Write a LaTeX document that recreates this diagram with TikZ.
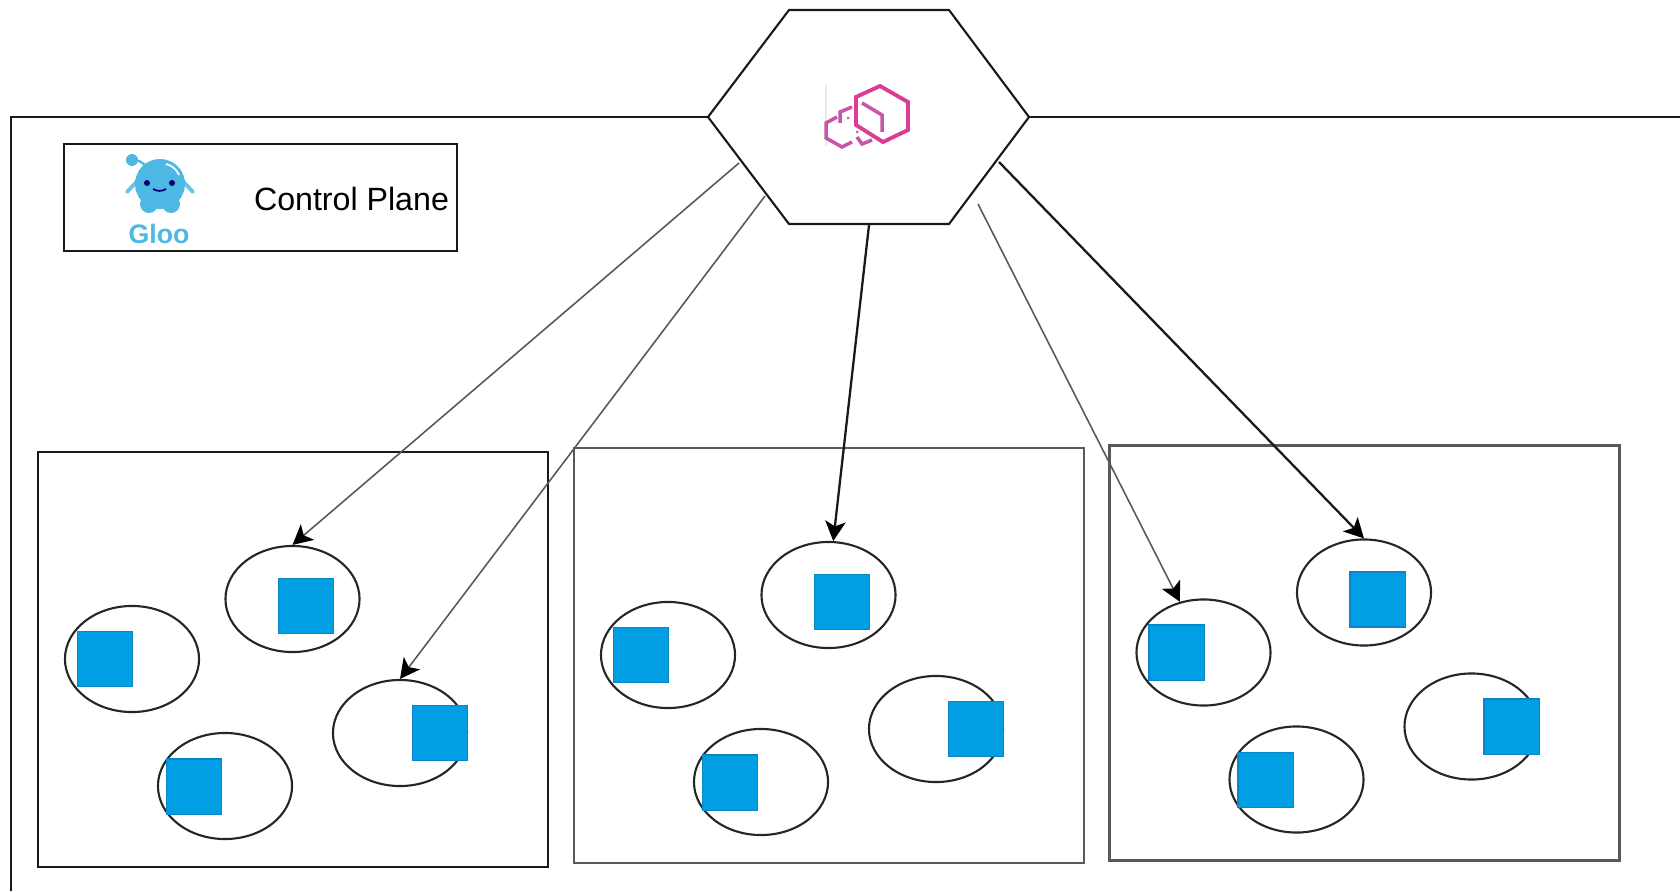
\documentclass[tikz,border=0pt]{standalone}
\usepackage{xcolor}
\usepackage{fontspec}
\setmainfont{Liberation Sans}
\usetikzlibrary{arrows.meta,shapes.geometric}
\definecolor{podblue}{HTML}{009FE3}
\definecolor{podedge}{HTML}{0A86C8}
\definecolor{gloo}{HTML}{4DB8E4}
\definecolor{envoy}{HTML}{DE3B96}
\definecolor{envoyb}{HTML}{C657A8}
\tikzset{
	>={Stealth[length=5.6pt,width=5.8pt,inset=1.4pt,color=black]},
	line/.style={line width=0.6pt,black!90},
	hostbox/.style={draw=black!90,line width=0.6pt,minimum width=5.1cm,minimum height=4.15cm,inner sep=0pt},
	hostboxb/.style={hostbox,draw=black!65,line width=0.7pt},
	pod/.style={draw=black!85,ellipse,line width=0.6pt,minimum width=1.34cm,minimum height=1.06cm,inner sep=0pt},
	proxy/.style={draw=podedge,fill=podblue,line width=0.3pt,minimum size=0.55cm,inner sep=0pt},
	thin arrow/.style={->,line width=0.45pt,black!65},
	thick arrow/.style={->,line width=0.65pt,black!90},
	logo/.style={line width=1.1pt,envoy,line join=miter},
	logob/.style={line width=1pt,envoyb}
}

\begin{document}
\begin{tikzpicture}[x=0.01cm,y=-0.01cm]
	\useasboundingbox (0,0) rectangle (1680,891);

	\coordinate (framel) at (11,891);
	\coordinate (frametl) at (11,117);
	\coordinate (framer) at (1680,117);

	\coordinate (hexl) at (708,117);
	\coordinate (hextl) at (789,10);
	\coordinate (hextr) at (949,10);
	\coordinate (hexr) at (1029,117);
	\coordinate (hexbr) at (949,224);
	\coordinate (hexbl) at (789,224);

	\coordinate (out1) at (739,163);
	\coordinate (out2) at (765,196);
	\coordinate (out3) at (869,225);
	\coordinate (out4) at (978,204);
	\coordinate (out5) at (999,162);

	\draw[line] (framel) -- (frametl) -- (hexl);
	\draw[line] (hexr) -- (framer);
	\draw[line] (hexl) -- (hextl) -- (hextr) -- (hexr) -- (hexbr) -- (hexbl) -- cycle;

	\node[draw=black!90,line width=0.6pt,minimum width=3.92cm,minimum height=1.07cm,inner sep=0pt] (legend) at (260.5,197.5) {};
	\node[font=\fontsize{9.15pt}{11pt}\selectfont,inner sep=0pt] (plane) at (351.5,199) {Control Plane};
	\node[font=\fontsize{7.6pt}{9pt}\selectfont\bfseries,text=gloo,inner sep=0pt] (gloo) at (159,234) {Gloo};

	\draw[gloo!85,line width=1.1pt,line cap=round] (142,176) -- (127,192);
	\draw[gloo!85,line width=1.1pt,line cap=round] (178,176) -- (193,192);
	\fill[gloo] (160,184) ellipse (25 and 25);
	\fill[gloo] (149,204) circle (9);
	\fill[gloo] (171,204) circle (9);
	\fill[gloo] (132,160) circle (6);
	\draw[gloo,line width=0.7pt] (132,160) to[out=0,in=120] (146,167);
	\draw[white,line width=0.5pt] (166,164) to[bend left=25] (179,175);
	\fill[black!55!blue] (147,183) circle (3);
	\fill[black!55!blue] (172,183) circle (3);
	\draw[black!55!blue,line width=0.5pt] (153,189) to[bend right=30] (166,189);

	\draw[black!8,line width=0.3pt] (826,85) -- (826,146);
	\draw[logob] (837,117) -- (826,123) -- (826,138) -- (842,147) -- (852,142);
	\draw[logob] (852,107) -- (840,112) -- (840,123);
	\draw[logob] (857,137) -- (862,144) -- (872,140);
	\draw[logob] (862,103) -- (882,115) -- (882,132);
	\fill[envoyb] (848,118) circle (1.5);
	\fill[envoyb] (857,132) circle (1.5);
	\draw[logo] (880,86) -- (908,102) -- (908,130) -- (883,142) -- (856,125) -- (856,97) -- cycle;

	\node[hostbox] (host1) at (293,659.5) {};
	\node[hostboxb] (host2) at (829,655.5) {};
	\node[hostboxb] (host3) at (1364.5,653) {};

	\node[pod] (pod1t) at (292.5,599) {};
	\node[pod] (pod1l) at (132,659) {};
	\node[pod] (pod1r) at (400,733) {};
	\node[pod] (pod1b) at (225,786) {};
	\node[pod] (pod2t) at (828.5,595) {};
	\node[pod] (pod2l) at (668,655) {};
	\node[pod] (pod2r) at (936,729) {};
	\node[pod] (pod2b) at (761,782) {};
	\node[pod] (pod3t) at (1364,592.5) {};
	\node[pod] (pod3l) at (1203.5,652.5) {};
	\node[pod] (pod3r) at (1471.5,726.5) {};
	\node[pod] (pod3b) at (1296.5,779.5) {};

	\node[proxy] (proxy1t) at (306,606) {};
	\node[proxy] (proxy1l) at (105,659) {};
	\node[proxy] (proxy1r) at (440,733) {};
	\node[proxy] (proxy1b) at (194,786.5) {};
	\node[proxy] (proxy2t) at (842,602) {};
	\node[proxy] (proxy2l) at (641,655) {};
	\node[proxy] (proxy2r) at (976,729) {};
	\node[proxy] (proxy2b) at (730,782.5) {};
	\node[proxy] (proxy3t) at (1377.5,599.5) {};
	\node[proxy] (proxy3l) at (1176.5,652.5) {};
	\node[proxy] (proxy3r) at (1511.5,726.5) {};
	\node[proxy] (proxy3b) at (1265.5,780) {};

	\draw[thin arrow] (out1) -- (pod1t.north);
	\draw[thin arrow] (out2) -- (pod1r.north);
	\draw[thick arrow] (out3) -- (pod2t.85);
	\draw[thin arrow] (out4) -- (pod3l.115);
	\draw[thick arrow] (out5) -- (pod3t.north);
\end{tikzpicture}
\end{document}
